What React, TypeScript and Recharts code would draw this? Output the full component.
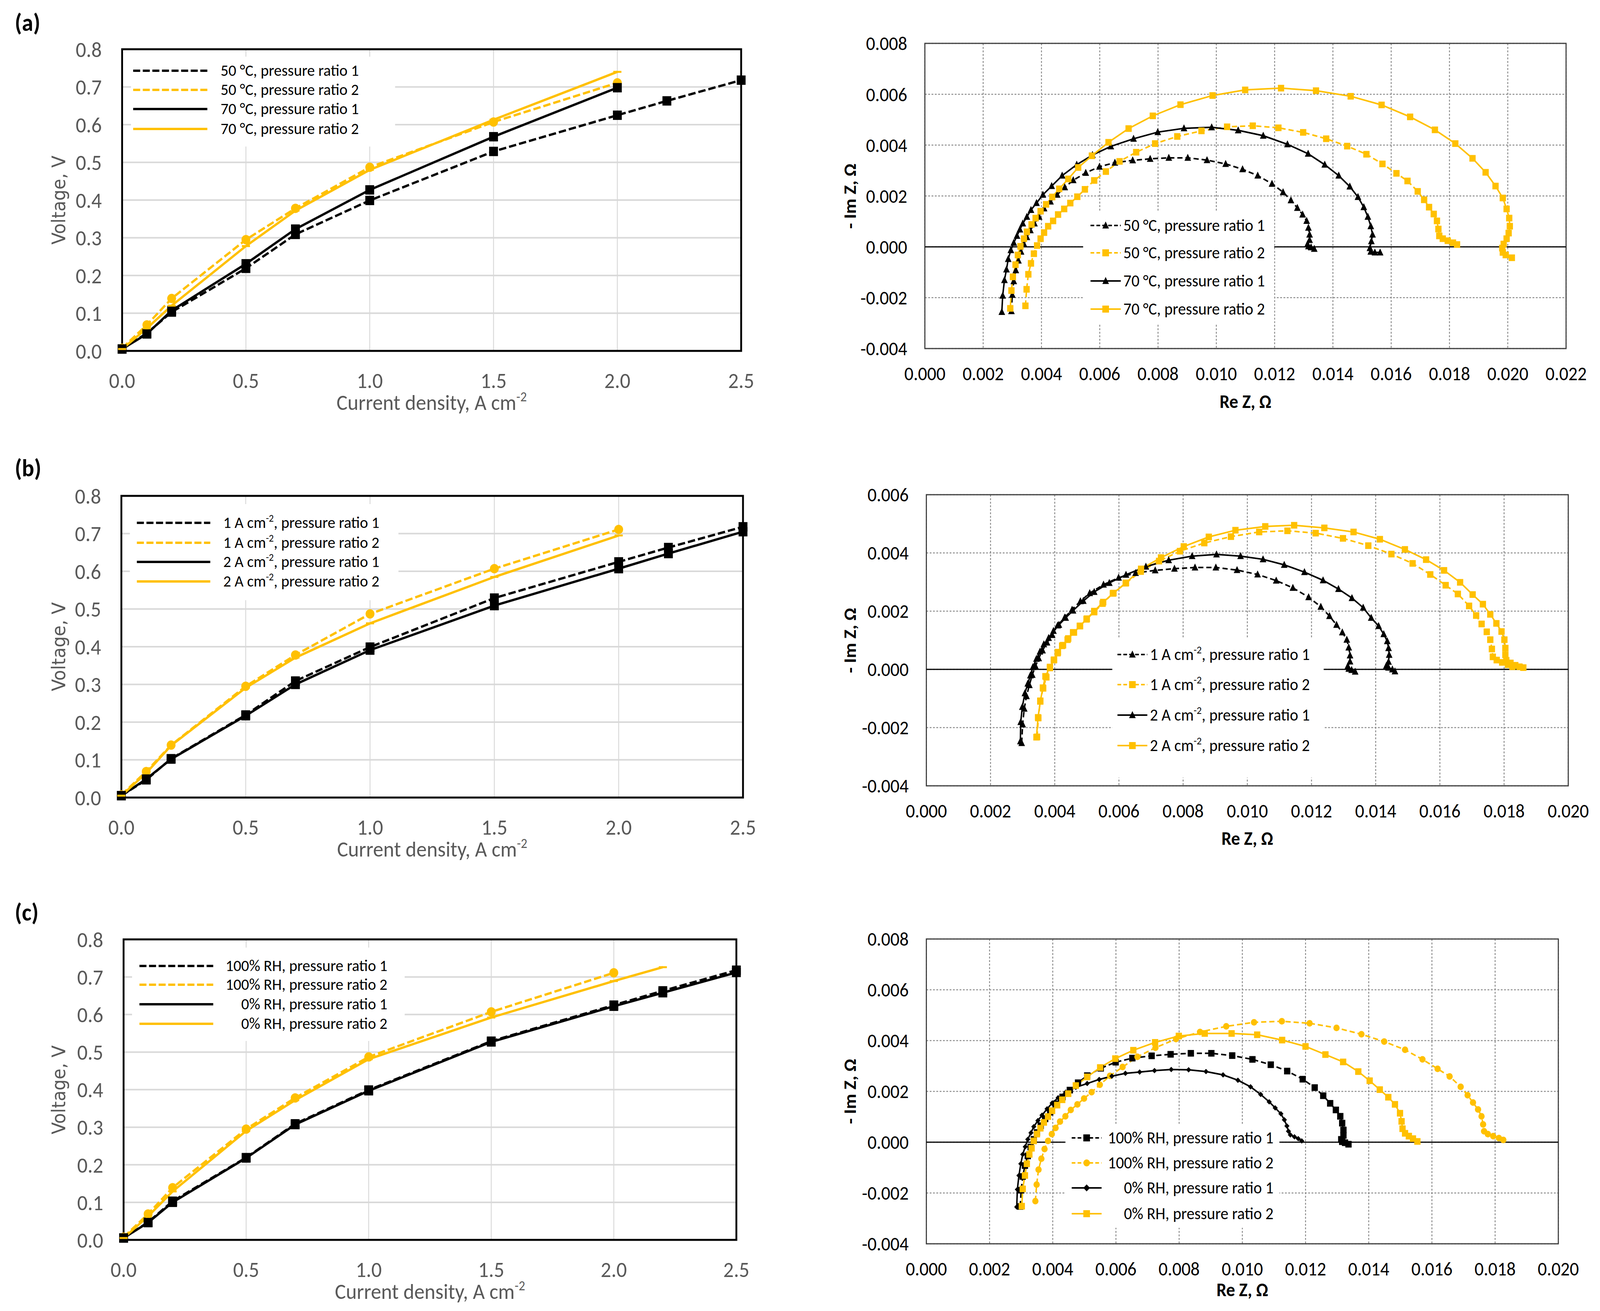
import React from 'react';
import { LineChart, Line, XAxis, YAxis, CartesianGrid, ReferenceArea, ReferenceLine } from 'recharts';

const YELLOW = '#FFC000';
const GRAY_TEXT = '#595959';
const NARROW = "Carlito, 'Liberation Sans Narrow', 'Arial Narrow', 'DejaVu Sans Condensed', sans-serif";
const WIDE = "'DejaVu Sans Condensed', 'DejaVu Sans', Verdana, sans-serif";

// ---- polarisation curves (current density A cm-2 / voltage V)
const J_LONG = [0, 0.1, 0.2, 0.5, 0.7, 1.0, 1.5, 2.0, 2.2, 2.5];
const J_SHORT = [0, 0.1, 0.2, 0.5, 0.7, 1.0, 1.5, 2.0];
const J_TO_22 = [0, 0.1, 0.2, 0.5, 0.7, 1.0, 1.5, 2.0, 2.2];

const V_BASE_PR1 = [0.005, 0.047, 0.103, 0.219, 0.309, 0.399, 0.529, 0.625, 0.663, 0.718];
const V_BASE_PR2 = [0.007, 0.069, 0.139, 0.295, 0.378, 0.487, 0.607, 0.711];
const V_70C_PR1 = [0.005, 0.045, 0.107, 0.231, 0.323, 0.427, 0.568, 0.698];
const V_70C_PR2 = [0.005, 0.06, 0.12, 0.278, 0.372, 0.48, 0.613, 0.74];
const V_2A_PR1 = [0.005, 0.049, 0.102, 0.217, 0.3, 0.391, 0.509, 0.607, 0.647, 0.705];
const V_2A_PR2 = [0.005, 0.065, 0.138, 0.291, 0.371, 0.462, 0.585, 0.695];
const V_0RH_PR1 = [0.005, 0.046, 0.1, 0.218, 0.307, 0.397, 0.527, 0.622, 0.658, 0.712];
const V_0RH_PR2 = [0.005, 0.063, 0.129, 0.29, 0.372, 0.481, 0.592, 0.689, 0.726];

const J_TICKS = [0, 0.5, 1.0, 1.5, 2.0, 2.5];
const V_TICKS = [0, 0.1, 0.2, 0.3, 0.4, 0.5, 0.6, 0.7, 0.8];

// ---- impedance spectra [Re Z, -Im Z] in ohm
const Z_BASE_PR1 = [
  [0.00297, -0.00253], [0.003, -0.00189], [0.00305, -0.00135], [0.00312, -0.00092], [0.00321, -0.00054],
  [0.0033, -0.00019], [0.0034, 0.00011], [0.0035, 0.00038], [0.00362, 0.00065], [0.00376, 0.00092],
  [0.00392, 0.00118], [0.00409, 0.00151], [0.00431, 0.00178], [0.00454, 0.00205], [0.0048, 0.00234],
  [0.00509, 0.00262], [0.00552, 0.00291], [0.00599, 0.00315], [0.00652, 0.00331], [0.00713, 0.0034],
  [0.00773, 0.00346], [0.00837, 0.0035], [0.00902, 0.0035], [0.00968, 0.00341], [0.01032, 0.00326],
  [0.0109, 0.00305], [0.01142, 0.0028], [0.01191, 0.00248], [0.01229, 0.00215], [0.01256, 0.00183],
  [0.01278, 0.00153], [0.01296, 0.00127], [0.0131, 0.00102], [0.01316, 0.00075], [0.0132, 0.00048],
  [0.0132, 0.00027], [0.01313, 0.00011], [0.01316, 0.00002], [0.01325, -0.00002], [0.01336, -0.00008],
];
const Z_BASE_PR2 = [
  [0.00345, -0.00232], [0.00349, -0.00167], [0.00355, -0.00108], [0.00364, -0.00065], [0.00374, -0.00027],
  [0.00385, 0.00005], [0.00397, 0.00032], [0.00409, 0.00056], [0.00423, 0.00081], [0.0044, 0.00102],
  [0.00457, 0.00127], [0.00478, 0.00149], [0.00499, 0.00172], [0.00523, 0.00197], [0.00549, 0.00226],
  [0.00581, 0.00261], [0.00621, 0.00296], [0.00668, 0.00336], [0.00725, 0.00372], [0.0079, 0.00406],
  [0.00866, 0.00434], [0.00949, 0.00456], [0.01037, 0.00472], [0.01125, 0.00476], [0.01213, 0.00468],
  [0.01298, 0.0045], [0.01377, 0.00425], [0.01449, 0.00396], [0.01515, 0.00364], [0.0157, 0.00326],
  [0.01618, 0.00289], [0.01656, 0.00259], [0.01691, 0.00218], [0.01713, 0.00185], [0.0173, 0.00156],
  [0.01746, 0.00129], [0.01757, 0.00102], [0.01762, 0.0007], [0.01765, 0.00043], [0.01777, 0.00032],
  [0.01794, 0.00024], [0.01812, 0.00016], [0.01826, 0.00009],
];
const Z_70C_PR1 = [
  [0.00264, -0.00256], [0.00267, -0.00192], [0.00273, -0.00131], [0.0028, -0.00089], [0.00286, -0.00048],
  [0.00295, -0.00013], [0.00305, 0.00016], [0.00316, 0.00043], [0.00326, 0.00068], [0.00336, 0.00092],
  [0.0035, 0.00118], [0.00364, 0.00145], [0.00383, 0.00172], [0.00405, 0.00205], [0.00435, 0.00239],
  [0.00471, 0.0028], [0.00521, 0.00323], [0.00575, 0.00361], [0.00638, 0.00395], [0.00716, 0.00425],
  [0.00799, 0.00451], [0.00889, 0.00466], [0.00984, 0.0047], [0.01075, 0.00458], [0.01161, 0.00437],
  [0.01244, 0.00403], [0.01315, 0.00366], [0.01372, 0.00323], [0.0142, 0.0028], [0.01458, 0.00237],
  [0.01486, 0.00196], [0.01506, 0.00156], [0.0152, 0.00118], [0.0153, 0.00081], [0.01536, 0.00048],
  [0.01532, 0.00022], [0.01527, -0.00005], [0.0153, -0.00019], [0.01544, -0.00022], [0.01562, -0.00022],
];
const Z_70C_PR2 = [
  [0.00293, -0.00242], [0.00297, -0.00172], [0.00302, -0.00118], [0.00311, -0.0007], [0.00319, -0.00032],
  [0.00328, 0.00002], [0.0034, 0.00032], [0.0035, 0.00059], [0.00366, 0.00088], [0.0038, 0.00113],
  [0.00397, 0.0014], [0.00416, 0.00167], [0.00437, 0.00196], [0.00461, 0.00228], [0.00492, 0.00267],
  [0.00526, 0.00312], [0.00573, 0.00358], [0.0063, 0.00411], [0.00699, 0.00465], [0.00782, 0.00515],
  [0.00877, 0.00559], [0.00987, 0.00595], [0.01099, 0.00617], [0.01222, 0.00624], [0.01342, 0.00614],
  [0.01461, 0.00592], [0.01567, 0.00558], [0.01665, 0.00511], [0.0175, 0.0046], [0.0182, 0.00406],
  [0.01879, 0.00348], [0.01924, 0.00293], [0.01958, 0.00239], [0.01983, 0.00192], [0.01996, 0.00149],
  [0.02005, 0.00113], [0.02007, 0.00081], [0.02003, 0.00054], [0.01996, 0.00032], [0.01986, 0.00011],
  [0.01981, -0.00005], [0.01983, -0.00022], [0.01993, -0.00032], [0.02014, -0.00043],
];
const Z_2A_PR1 = [
  [0.00293, -0.00247], [0.00294, -0.00181], [0.00299, -0.00129], [0.00307, -0.00082], [0.00316, -0.00049],
  [0.00324, -0.00021], [0.00332, 0.00008], [0.00343, 0.00036], [0.00354, 0.00061], [0.00366, 0.00086],
  [0.00381, 0.00108], [0.00396, 0.00132], [0.00413, 0.00153], [0.00434, 0.00177], [0.00457, 0.00202],
  [0.00489, 0.00235], [0.00523, 0.00266], [0.0057, 0.00297], [0.00622, 0.00325], [0.00684, 0.00353],
  [0.00755, 0.00375], [0.00828, 0.00389], [0.00904, 0.00395], [0.00979, 0.00389], [0.01049, 0.00378],
  [0.01115, 0.00359], [0.01178, 0.00334], [0.01236, 0.00306], [0.01284, 0.00276], [0.01326, 0.00245],
  [0.01361, 0.00212], [0.01386, 0.00177], [0.01409, 0.00149], [0.01425, 0.00121], [0.01436, 0.00097],
  [0.0144, 0.00073], [0.01442, 0.0005], [0.0144, 0.00026], [0.01433, 0.00012], [0.0144, 0.00006],
  [0.01452, 0.0], [0.0146, -0.00007],
];
const Z_2A_PR2 = [
  [0.00343, -0.00233], [0.00348, -0.00165], [0.00355, -0.0011], [0.00363, -0.00063], [0.00371, -0.00024],
  [0.00385, 0.00008], [0.00398, 0.00033], [0.0041, 0.00059], [0.00426, 0.00083], [0.00442, 0.00106],
  [0.0046, 0.00127], [0.00479, 0.00149], [0.005, 0.00174], [0.00523, 0.002], [0.00551, 0.00231],
  [0.00583, 0.00262], [0.00622, 0.00297], [0.00669, 0.00345], [0.00731, 0.00384], [0.00802, 0.00422],
  [0.0088, 0.00455], [0.00963, 0.00478], [0.01056, 0.00491], [0.01146, 0.00495], [0.0124, 0.00486],
  [0.01331, 0.00472], [0.01413, 0.00447], [0.01491, 0.00412], [0.01557, 0.00377], [0.01613, 0.0034],
  [0.01663, 0.00299], [0.01702, 0.00257], [0.01734, 0.00224], [0.01757, 0.00189], [0.01776, 0.00158],
  [0.01792, 0.0013], [0.01801, 0.00102], [0.01804, 0.00073], [0.01804, 0.0005], [0.01807, 0.00031],
  [0.0182, 0.00022], [0.01835, 0.00014], [0.01848, 0.00009], [0.0186, 0.00006],
];
const Z_0RH_PR1 = [
  [0.00286, -0.00255], [0.00288, -0.00186], [0.00293, -0.00131], [0.00299, -0.00085], [0.00305, -0.00048],
  [0.00313, -0.00018], [0.00321, 0.00011], [0.00331, 0.00037], [0.0034, 0.00061], [0.00353, 0.00085],
  [0.00366, 0.00106], [0.00382, 0.00131], [0.00398, 0.00154], [0.00417, 0.00175], [0.00441, 0.00197],
  [0.00473, 0.00216], [0.00509, 0.00231], [0.00547, 0.00247], [0.00587, 0.0026], [0.0063, 0.00271],
  [0.00675, 0.00276], [0.00722, 0.00282], [0.00775, 0.00286], [0.0083, 0.00285], [0.00885, 0.00278],
  [0.00939, 0.00265], [0.00986, 0.00244], [0.01026, 0.00218], [0.01058, 0.00188], [0.01085, 0.00159],
  [0.01104, 0.00135], [0.01122, 0.00112], [0.01133, 0.00088], [0.01141, 0.00064], [0.01146, 0.00043],
  [0.01152, 0.00029], [0.01165, 0.00021], [0.01177, 0.00014], [0.01188, 0.00005],
];
const Z_0RH_PR2 = [
  [0.00302, -0.00252], [0.00305, -0.00184], [0.00312, -0.00131], [0.00318, -0.00085], [0.00326, -0.00048],
  [0.00333, -0.00024], [0.0034, 0.00005], [0.0035, 0.00032], [0.00361, 0.00055], [0.00372, 0.00078],
  [0.00385, 0.00101], [0.00398, 0.00124], [0.00414, 0.00146], [0.0043, 0.00167], [0.00449, 0.00191],
  [0.00473, 0.00223], [0.00509, 0.00257], [0.0055, 0.00294], [0.00598, 0.00329], [0.00655, 0.00362],
  [0.00724, 0.00393], [0.00799, 0.00418], [0.00881, 0.00428], [0.00966, 0.00428], [0.01047, 0.00423],
  [0.01126, 0.00402], [0.012, 0.00377], [0.01263, 0.00345], [0.01319, 0.00316], [0.01367, 0.00278],
  [0.01403, 0.00242], [0.01435, 0.00207], [0.01462, 0.00177], [0.01483, 0.00149], [0.01499, 0.00114],
  [0.01504, 0.00082], [0.01507, 0.00053], [0.01515, 0.00035], [0.01527, 0.00024], [0.0154, 0.00014],
  [0.01554, 0.00003],
];

const RE_TICKS_22 = [0, 0.002, 0.004, 0.006, 0.008, 0.01, 0.012, 0.014, 0.016, 0.018, 0.02, 0.022];
const RE_TICKS_20 = [0, 0.002, 0.004, 0.006, 0.008, 0.01, 0.012, 0.014, 0.016, 0.018, 0.02];
const IM_TICKS_8 = [-0.004, -0.002, 0, 0.002, 0.004, 0.006, 0.008];
const IM_TICKS_6 = [-0.004, -0.002, 0, 0.002, 0.004, 0.006];

const zip = (xs: number[], ys: number[]) => xs.map((x, i) => ({ x, y: ys[i] }));
const pairs = (pts: number[][]) => pts.map(([x, y]) => ({ x, y }));

type Shape = 'square' | 'circle' | 'triangle' | 'diamond' | 'dash' | 'none';
interface Series {
  name: string;
  rows: { x: number; y: number }[];
  color: string;
  dashed: boolean;
  marker: Shape;
  size: number;
}

function Marker({ cx, cy, shape, size, color }: { cx?: number; cy?: number; shape: Shape; size: number; color: string }) {
  if (cx == null || cy == null || shape === 'none') return null;
  const h = size / 2;
  if (shape === 'square') return <rect x={cx - h} y={cy - h} width={size} height={size} fill={color} />;
  if (shape === 'circle') return <circle cx={cx} cy={cy} r={h} fill={color} />;
  if (shape === 'triangle')
    return <polygon points={`${cx},${cy - h * 1.15} ${cx + h},${cy + h * 0.85} ${cx - h},${cy + h * 0.85}`} fill={color} />;
  if (shape === 'diamond')
    return <polygon points={`${cx},${cy - h} ${cx + h},${cy} ${cx},${cy + h} ${cx - h},${cy}`} fill={color} />;
  return <rect x={cx - h} y={cy - 2.5} width={size} height={5} fill={color} />;
}

const ML = 320;
const MT = 40;
const MR = 60;
const MB = 220;

interface PanelProps {
  box: number[]; // plot area: left, top, right, bottom
  kind: 'pol' | 'nyq';
  xDomain: number[];
  xTicks: number[];
  yDomain: number[];
  yTicks: number[];
  series: Series[];
}

function Panel({ box, kind, xDomain, xTicks, yDomain, yTicks, series }: PanelProps) {
  const [l, t, r, b] = box;
  const pol = kind === 'pol';
  const tickStyle = pol
    ? { fill: GRAY_TEXT, fontSize: 56, fontFamily: NARROW }
    : { fill: '#000', fontSize: 49, fontFamily: NARROW };
  const fmt = (v: number) => (pol ? v.toFixed(1) : v.toFixed(3));
  return (
    <div style={{ position: 'absolute', left: l - ML, top: t - MT }}>
      <LineChart width={r - l + ML + MR} height={b - t + MT + MB} margin={{ top: MT, right: MR, bottom: 0, left: 0 }}>
        {pol ? (
          <>
            <CartesianGrid vertical={false} stroke="#d9d9d9" strokeWidth={4} />
            <CartesianGrid horizontal={false} stroke="#d9d9d9" strokeWidth={2.5} />
          </>
        ) : (
          <CartesianGrid stroke="#8c8c8c" strokeDasharray="5 4" strokeWidth={2.5} />
        )}
        <XAxis
          type="number"
          dataKey="x"
          domain={xDomain}
          ticks={xTicks}
          tickFormatter={fmt}
          height={MB}
          axisLine={false}
          tickLine={false}
          tickSize={0}
          tickMargin={pol ? 55 : 46}
          tick={tickStyle}
          interval={0}
        />
        <YAxis
          type="number"
          domain={yDomain}
          ticks={yTicks}
          tickFormatter={fmt}
          width={ML}
          axisLine={false}
          tickLine={false}
          tickSize={0}
          tickMargin={pol ? 55 : 48}
          tick={tickStyle}
          interval={0}
        />
        {!pol && <ReferenceLine y={0} stroke="#000" strokeWidth={3} />}
        {series.map((s) => (
          <Line
            key={s.name}
            data={s.rows}
            dataKey="y"
            type="linear"
            stroke={s.color}
            strokeWidth={pol ? 6 : 4}
            strokeDasharray={s.dashed ? (pol ? '20 8' : '14 8') : undefined}
            dot={(p: any) => (
              <g key={`${s.name}-${p.index}`}>
                <Marker cx={p.cx} cy={p.cy} shape={s.marker} size={s.size} color={s.color} />
              </g>
            )}
            activeDot={false}
            isAnimationActive={false}
          />
        ))}
        <ReferenceArea
          x1={xDomain[0]}
          x2={xDomain[1]}
          y1={yDomain[0]}
          y2={yDomain[1]}
          fill="none"
          stroke={pol ? '#000' : '#404040'}
          strokeWidth={pol ? 5 : 3}
        />
      </LineChart>
    </div>
  );
}

interface LegendRow {
  label: React.ReactNode;
  color: string;
  dashed: boolean;
  marker: Shape;
}

interface LegendProps {
  box: number[];
  sample: number[];
  textX: number;
  alignRight?: boolean;
  rowsY: number[];
  rows: LegendRow[];
  kind: 'pol' | 'nyq';
}

function LegendBox({ box, sample, textX, alignRight, rowsY, rows, kind }: LegendProps) {
  const [l, t, r, b] = box;
  const pol = kind === 'pol';
  const sw = sample[1] - sample[0];
  return (
    <div style={{ position: 'absolute', left: l, top: t, width: r - l, height: b - t, background: '#fff' }}>
      {rows.map((row, i) => {
        const y = rowsY[i] - t;
        return (
          <React.Fragment key={i}>
            <svg
              width={sw}
              height={30}
              style={{ position: 'absolute', left: sample[0] - l, top: y - 15, overflow: 'visible' }}
            >
              <line
                x1={0}
                x2={sw}
                y1={15}
                y2={15}
                stroke={row.color}
                strokeWidth={pol ? 6 : 4}
                strokeDasharray={row.dashed ? (pol ? '19 7' : '10 6') : undefined}
              />
              {!pol && <Marker cx={sw / 2} cy={15} shape={row.marker} size={18} color={row.color} />}
            </svg>
            <div
              style={{
                position: 'absolute',
                top: y,
                transform: 'translateY(-52%)',
                left: alignRight ? undefined : textX - l,
                right: alignRight ? r - textX : undefined,
                fontFamily: NARROW,
                fontSize: pol ? 42 : 43,
                lineHeight: 1,
                whiteSpace: 'nowrap',
                color: '#000',
              }}
            >
              {row.label}
            </div>
          </React.Fragment>
        );
      })}
    </div>
  );
}

const Sup = ({ children }: { children: React.ReactNode }) => (
  <span style={{ fontSize: '0.62em', position: 'relative', top: '-0.62em' }}>{children}</span>
);

function Txt({ x, y, rotate, style, children }: { x: number; y: number; rotate?: boolean; style: React.CSSProperties; children: React.ReactNode }) {
  return (
    <div
      style={{
        position: 'absolute',
        left: x,
        top: y,
        transform: `translate(-50%, -50%)${rotate ? ' rotate(-90deg)' : ''}`,
        whiteSpace: 'nowrap',
        lineHeight: 1,
        ...style,
      }}
    >
      {children}
    </div>
  );
}

const POL_Y_TITLE: React.CSSProperties = { fontFamily: WIDE, fontSize: 50, color: GRAY_TEXT };
const POL_X_TITLE: React.CSSProperties = { fontFamily: NARROW, fontSize: 56, color: GRAY_TEXT };
const NYQ_TITLE: React.CSSProperties = { fontFamily: NARROW, fontSize: 48, fontWeight: 700, color: '#000' };
const PANEL_TAG: React.CSSProperties = { fontFamily: NARROW, fontSize: 62, fontWeight: 700, color: '#000' };

const sq = (name: string, rows: any, color: string, dashed: boolean, marker: Shape, size: number): Series => ({
  name,
  rows,
  color,
  dashed,
  marker,
  size,
});

// the figure is laid out in the reference's own pixel grid and squeezed into the viewport
const FIG_W = 4337;
const FIG_H = 3355;

export default function App() {
  const vw = typeof window !== 'undefined' ? window.innerWidth : FIG_W;
  const vh = typeof window !== 'undefined' ? window.innerHeight : FIG_H;
  const sx = Math.min(1, vw / FIG_W);
  const sy = Math.min(1, vh / FIG_H);

  const polA = [
    sq('a50-1', zip(J_LONG, V_BASE_PR1), '#000', true, 'square', 24),
    sq('a50-2', zip(J_SHORT, V_BASE_PR2), YELLOW, true, 'circle', 24),
    sq('a70-1', zip(J_SHORT, V_70C_PR1), '#000', false, 'square', 24),
    sq('a70-2', zip(J_SHORT, V_70C_PR2), YELLOW, false, 'dash', 22),
  ];
  const polB = [
    sq('b1-1', zip(J_LONG, V_BASE_PR1), '#000', true, 'square', 24),
    sq('b1-2', zip(J_SHORT, V_BASE_PR2), YELLOW, true, 'circle', 24),
    sq('b2-1', zip(J_LONG, V_2A_PR1), '#000', false, 'square', 24),
    sq('b2-2', zip(J_SHORT, V_2A_PR2), YELLOW, false, 'dash', 22),
  ];
  const polC = [
    sq('c100-1', zip(J_LONG, V_BASE_PR1), '#000', true, 'square', 24),
    sq('c100-2', zip(J_SHORT, V_BASE_PR2), YELLOW, true, 'circle', 24),
    sq('c0-1', zip(J_LONG, V_0RH_PR1), '#000', false, 'square', 24),
    sq('c0-2', zip(J_TO_22, V_0RH_PR2), YELLOW, false, 'dash', 22),
  ];
  const nyqA = [
    sq('za50-1', pairs(Z_BASE_PR1), '#000', true, 'triangle', 18),
    sq('za50-2', pairs(Z_BASE_PR2), YELLOW, true, 'square', 17),
    sq('za70-1', pairs(Z_70C_PR1), '#000', false, 'triangle', 18),
    sq('za70-2', pairs(Z_70C_PR2), YELLOW, false, 'square', 17),
  ];
  const nyqB = [
    sq('zb1-1', pairs(Z_BASE_PR1), '#000', true, 'triangle', 18),
    sq('zb1-2', pairs(Z_BASE_PR2), YELLOW, true, 'square', 17),
    sq('zb2-1', pairs(Z_2A_PR1), '#000', false, 'triangle', 18),
    sq('zb2-2', pairs(Z_2A_PR2), YELLOW, false, 'square', 17),
  ];
  const nyqC = [
    sq('zc100-1', pairs(Z_BASE_PR1), '#000', true, 'square', 17),
    sq('zc100-2', pairs(Z_BASE_PR2), YELLOW, true, 'circle', 17),
    sq('zc0-1', pairs(Z_0RH_PR1), '#000', false, 'diamond', 14),
    sq('zc0-2', pairs(Z_0RH_PR2), YELLOW, false, 'square', 17),
  ];

  const cm2 = (
    <>
      A cm<Sup>-2</Sup>
    </>
  );
  const legA = [
    { label: '50 °C, pressure ratio 1', color: '#000', dashed: true, marker: 'triangle' as Shape },
    { label: '50 °C, pressure ratio 2', color: YELLOW, dashed: true, marker: 'square' as Shape },
    { label: '70 °C, pressure ratio 1', color: '#000', dashed: false, marker: 'triangle' as Shape },
    { label: '70 °C, pressure ratio 2', color: YELLOW, dashed: false, marker: 'square' as Shape },
  ];
  const legB = [
    { label: <>1 {cm2}, pressure ratio 1</>, color: '#000', dashed: true, marker: 'triangle' as Shape },
    { label: <>1 {cm2}, pressure ratio 2</>, color: YELLOW, dashed: true, marker: 'square' as Shape },
    { label: <>2 {cm2}, pressure ratio 1</>, color: '#000', dashed: false, marker: 'triangle' as Shape },
    { label: <>2 {cm2}, pressure ratio 2</>, color: YELLOW, dashed: false, marker: 'square' as Shape },
  ];
  const legC = [
    { label: '100% RH, pressure ratio 1', color: '#000', dashed: true, marker: 'square' as Shape },
    { label: '100% RH, pressure ratio 2', color: YELLOW, dashed: true, marker: 'circle' as Shape },
    { label: '0% RH, pressure ratio 1', color: '#000', dashed: false, marker: 'diamond' as Shape },
    { label: '0% RH, pressure ratio 2', color: YELLOW, dashed: false, marker: 'square' as Shape },
  ];

  const polBoxes = [
    [331, 126, 2009, 898],
    [329, 1269, 2014, 2041],
    [335, 2404, 1996, 3173],
  ];
  const nyqBoxes = [
    [2507, 111, 4245, 892],
    [2511, 1266, 4251, 2011],
    [2511, 2403, 4224, 3183],
  ];
  const reTitleY = [1028, 2146, 3301];

  return (
    <div style={{ position: 'absolute', left: 0, top: 0, width: FIG_W * sx, height: FIG_H * sy, overflow: 'hidden', background: '#fff' }}>
      <div
        style={{
          position: 'absolute',
          left: 0,
          top: 0,
          width: FIG_W,
          height: FIG_H,
          background: '#fff',
          transform: `scale(${sx}, ${sy})`,
          transformOrigin: '0 0',
        }}
      >
        <Panel box={polBoxes[0]} kind="pol" xDomain={[0, 2.5]} xTicks={J_TICKS} yDomain={[0, 0.8]} yTicks={V_TICKS} series={polA} />
        <Panel box={polBoxes[1]} kind="pol" xDomain={[0, 2.5]} xTicks={J_TICKS} yDomain={[0, 0.8]} yTicks={V_TICKS} series={polB} />
        <Panel box={polBoxes[2]} kind="pol" xDomain={[0, 2.5]} xTicks={J_TICKS} yDomain={[0, 0.8]} yTicks={V_TICKS} series={polC} />
        <Panel box={nyqBoxes[0]} kind="nyq" xDomain={[0, 0.022]} xTicks={RE_TICKS_22} yDomain={[-0.004, 0.008]} yTicks={IM_TICKS_8} series={nyqA} />
        <Panel box={nyqBoxes[1]} kind="nyq" xDomain={[0, 0.02]} xTicks={RE_TICKS_20} yDomain={[-0.004, 0.006]} yTicks={IM_TICKS_6} series={nyqB} />
        <Panel box={nyqBoxes[2]} kind="nyq" xDomain={[0, 0.02]} xTicks={RE_TICKS_20} yDomain={[-0.004, 0.008]} yTicks={IM_TICKS_8} series={nyqC} />

        <LegendBox kind="pol" box={[355, 145, 1071, 375]} sample={[361, 562]} textX={598} rowsY={[181, 230, 279, 330]} rows={legA} />
        <LegendBox kind="pol" box={[352, 1290, 1080, 1536]} sample={[371, 570]} textX={605} rowsY={[1338, 1389, 1438, 1488]} rows={legB} />
        <LegendBox kind="pol" box={[358, 2425, 1097, 2664]} sample={[378, 578]} textX={1050} alignRight rowsY={[2472, 2520, 2570, 2620]} rows={legC} />
        <LegendBox kind="nyq" box={[2936, 540, 3454, 828]} sample={[2956, 3038]} textX={3045} rowsY={[577, 647, 719, 791]} rows={legA} />
        <LegendBox kind="nyq" box={[3015, 1634, 3588, 1990]} sample={[3029, 3110]} textX={3117} rowsY={[1675, 1752, 1830, 1908]} rows={legB} />
        <LegendBox kind="nyq" box={[2888, 2879, 3468, 3142]} sample={[2905, 2986]} textX={3452} alignRight rowsY={[2912, 2976, 3040, 3106]} rows={legC} />

        {polBoxes.map((bx, i) => (
          <React.Fragment key={`pt${i}`}>
            <Txt x={160} y={(bx[1] + bx[3]) / 2} rotate style={POL_Y_TITLE}>
              Voltage, V
            </Txt>
            <Txt x={(bx[0] + bx[2]) / 2} y={bx[3] + 132} style={POL_X_TITLE}>
              Current density, {cm2}
            </Txt>
          </React.Fragment>
        ))}
        {nyqBoxes.map((bx, i) => (
          <React.Fragment key={`nt${i}`}>
            <Txt x={2304} y={(bx[1] + bx[3]) / 2} rotate style={NYQ_TITLE}>
              - Im Z, Ω
            </Txt>
            <Txt x={(bx[0] + bx[2]) / 2} y={reTitleY[i]} style={NYQ_TITLE}>
              Re Z, Ω
            </Txt>
          </React.Fragment>
        ))}
        <div style={{ position: 'absolute', left: 40, top: 27, lineHeight: 1, ...PANEL_TAG }}>(a)</div>
        <div style={{ position: 'absolute', left: 40, top: 1167, lineHeight: 1, ...PANEL_TAG }}>(b)</div>
        <div style={{ position: 'absolute', left: 40, top: 2304, lineHeight: 1, ...PANEL_TAG }}>(c)</div>
      </div>
    </div>
  );
}
